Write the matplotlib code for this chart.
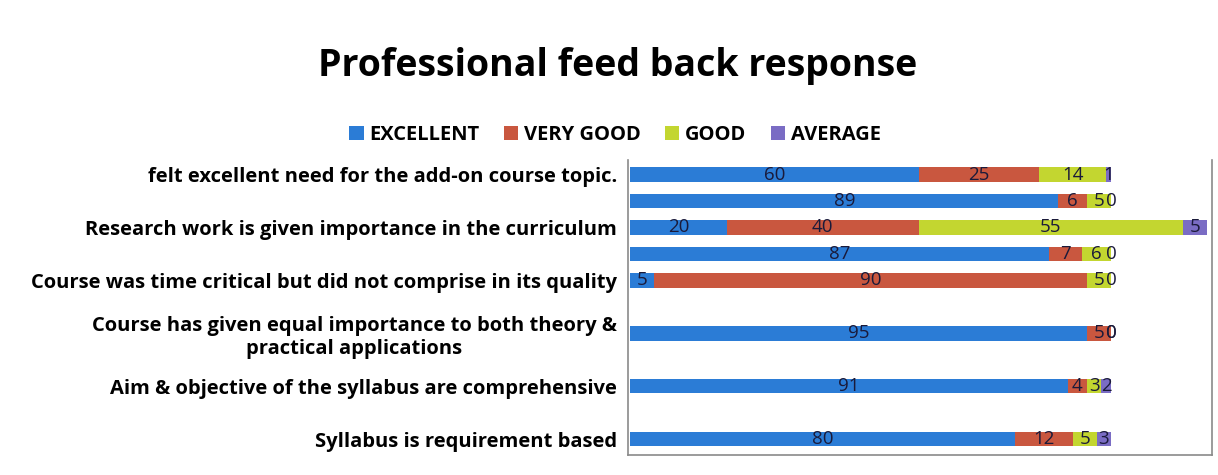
import matplotlib.pyplot as plt
import numpy as np

categories = [
    "felt excellent need for the add-on course topic.",
    "",
    "Research work is given importance in the curriculum",
    "",
    "Course was time critical but did not comprise in its quality",
    "",
    "Course has given equal importance to both theory &\npractical applications",
    "",
    "Aim & objective of the syllabus are comprehensive",
    "",
    "Syllabus is requirement based",
]
excellent = [60, 89, 20, 87, 5, None, 95, None, 91, None, 80]
very_good = [25, 6, 40, 7, 90, None, 5, None, 4, None, 12]
good = [14, 5, 55, 6, 5, None, 0, None, 3, None, 5]
average = [1, 0, 5, 0, 0, None, 0, None, 2, None, 3]

series = [("EXCELLENT", excellent, "#2b7cd6"),
          ("VERY GOOD", very_good, "#c9573f"),
          ("GOOD", good, "#c3d630"),
          ("AVERAGE", average, "#7a6cc4")]

plt.rcParams['font.family'] = ['Open Sans', 'DejaVu Sans']

fig = plt.figure(figsize=(12.18, 4.75), dpi=100)
ax = fig.add_axes([628 / 1218, 20 / 475, 584 / 1218, 295 / 475])

y = np.arange(len(categories))
left = np.zeros(len(categories))
for name, vals, col in series:
    v = np.array([np.nan if x is None else x for x in vals], dtype=float)
    mask = ~np.isnan(v)
    ax.barh(y[mask], v[mask], left=left[mask], height=0.55, color=col,
            label=name, edgecolor="none")
    for yi, vi, li in zip(y[mask], v[mask], left[mask]):
        ax.text(li + vi / 2, yi, "%d" % vi, ha="center", va="center",
                fontsize=13.5, color="#1a1a3a")
    left[mask] += v[mask]

ax.set_xlim(-0.5, 121)
ax.set_ylim(len(categories) - 0.4, -0.55)
ax.set_yticks(y)
ax.set_yticklabels(categories, fontsize=14.5, fontweight="bold", ha="right",
                   multialignment="center")
ax.tick_params(axis="y", length=0, pad=8)
ax.set_xticks([])
ax.spines["top"].set_visible(False)
for s in ["left", "right", "bottom"]:
    ax.spines[s].set_color("#8a8a8a")
    ax.spines[s].set_linewidth(1.2)

fig.text(0.507, 0.862, "Professional feed back response", ha="center",
         va="center", fontsize=27, fontweight="bold")
fig.legend(loc="center", bbox_to_anchor=(0.505, 0.715), ncol=4, frameon=False,
           prop={"weight": "bold", "size": 14.5},
           handlelength=0.7, handleheight=0.7, handletextpad=0.3,
           columnspacing=1.2)

fig.savefig("out.png", dpi=100)
